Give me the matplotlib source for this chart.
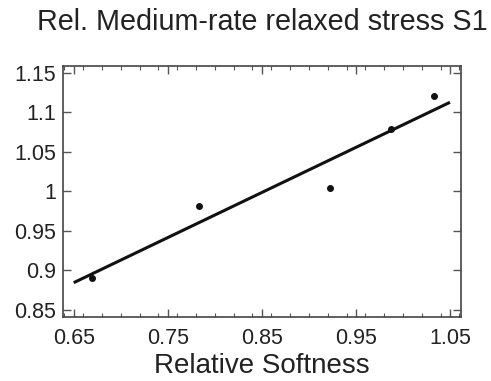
import numpy as np
import matplotlib
matplotlib.use('Agg')
import matplotlib.pyplot as plt
from matplotlib.ticker import MultipleLocator

plt.rcParams['font.family'] = ['Liberation Sans', 'DejaVu Sans']

# measured points
softness = [0.669, 0.783, 0.922, 0.987, 1.033]
stress = [0.891, 0.981, 1.004, 1.079, 1.120]

# fitted line (end points)
fit_x = [0.65, 1.05]
fit_y = [0.8845, 1.1126]

x_ticks = [0.65, 0.75, 0.85, 0.95, 1.05]
y_ticks = [0.85, 0.9, 0.95, 1.0, 1.05, 1.1, 1.15]
y_labels = ['0.85', '0.9', '0.95', '1', '1.05', '1.1', '1.15']

fig = plt.figure(figsize=(4.91, 3.81), dpi=100)
ax = fig.add_axes([0.1283, 0.168, 0.8106, 0.6596])

ax.plot(fit_x, fit_y, color='#111111', lw=2.2, solid_capstyle='butt')
ax.plot(softness, stress, 'o', color='#111111', ms=4.0)

ax.set_xlim(0.6386, 1.0617)
ax.set_ylim(0.8411, 1.1589)
ax.set_xticks(x_ticks)
ax.set_xticklabels(['%.2f' % v for v in x_ticks])
ax.set_yticks(y_ticks)
ax.set_yticklabels(y_labels)
ax.xaxis.set_minor_locator(MultipleLocator(0.02))

ax.tick_params(which='both', direction='in', top=True, right=True,
               colors='#555555', labelcolor='#222222', labelsize=15.5)
ax.tick_params(which='major', length=5.5, width=1.0)
ax.tick_params(which='minor', length=3, width=0.8)
ax.tick_params(axis='x', pad=8)
ax.tick_params(axis='y', pad=5)
for s in ax.spines.values():
    s.set_color('#444444')
    s.set_linewidth(1.2)

ax.set_xlabel('Relative Softness', fontsize=20, color='#222222', labelpad=3)
fig.text(0.535, 0.942, 'Rel. Medium-rate relaxed stress S1', fontsize=20.7,
         color='#222222', ha='center', va='center')

fig.savefig('out.png', dpi=100)
